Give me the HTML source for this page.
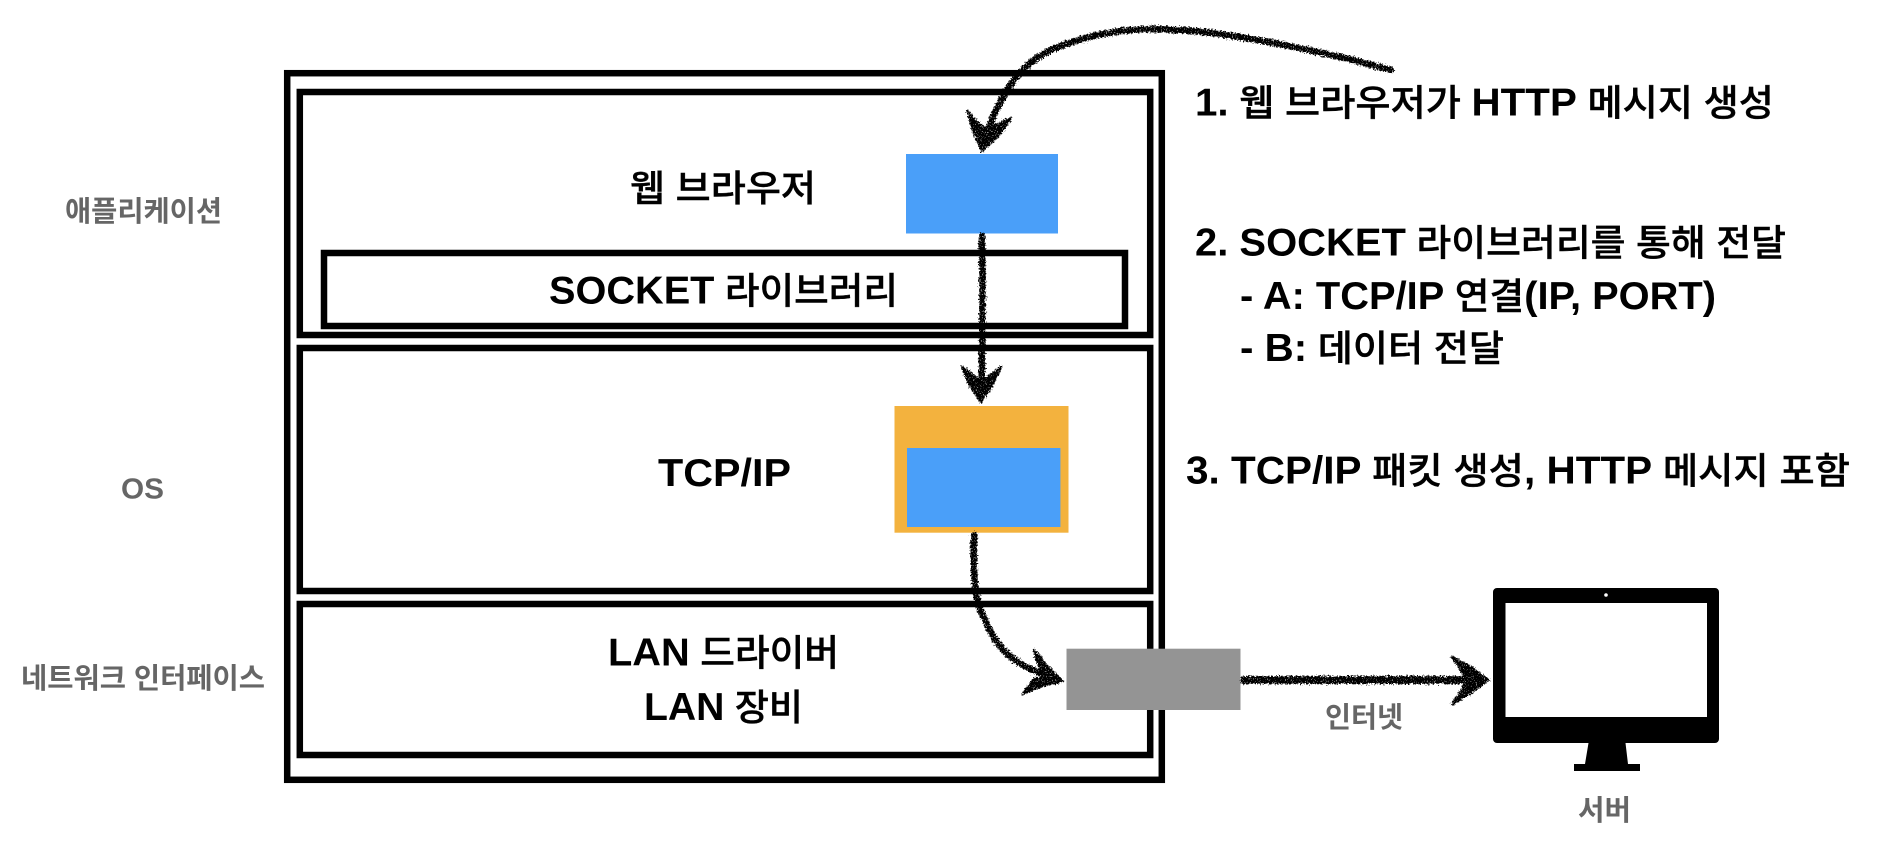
<!DOCTYPE html>
<html lang="ko"><head><meta charset="utf-8"><title>Diagram</title>
<style>
html,body{margin:0;padding:0;background:#fff;width:1882px;height:850px;overflow:hidden}
svg{display:block}
text{font-family:"Liberation Sans","Noto Sans CJK KR",sans-serif}
.k{font-size:36.5px;fill:#000;font-weight:500;stroke:#000;stroke-width:.4px}
.g{font-size:28.5px;fill:#666;font-weight:700}
.b{font-weight:700;stroke:none;font-size:38.5px}
</style></head><body>
<svg width="1882" height="850" viewBox="0 0 1882 850" xmlns="http://www.w3.org/2000/svg">
<defs><filter id="r" x="0" y="0" width="1882" height="850" filterUnits="userSpaceOnUse" primitiveUnits="userSpaceOnUse">
<feTurbulence type="fractalNoise" baseFrequency="0.6" numOctaves="2" seed="4" result="n"/>
<feDisplacementMap in="SourceGraphic" in2="n" scale="6" xChannelSelector="R" yChannelSelector="G" result="d"/>
<feTurbulence type="fractalNoise" baseFrequency="0.9" numOctaves="1" seed="9"/>
<feColorMatrix type="matrix" values="0 0 0 0 0  0 0 0 0 0  0 0 0 0 0  9 0 0 0 -5.6" result="s"/>
<feComposite in="d" in2="s" operator="out"/>
</filter></defs>
<g fill="none" stroke="#000" stroke-width="6.5">
<rect x="287.2" y="73.2" width="874.6" height="706.6"/>
<rect x="299.8" y="92" width="850.4" height="243"/>
<rect x="299.8" y="348" width="850.4" height="243"/>
<rect x="299.8" y="604" width="850.4" height="151"/>
<rect x="324" y="253" width="801" height="73"/>
</g>
<rect x="906" y="154" width="152" height="79.5" fill="#4a9ff9"/>
<rect x="894.5" y="406" width="174" height="126.7" fill="#f3b23e"/>
<rect x="907" y="448" width="153.4" height="79" fill="#4a9ff9"/>
<rect x="1066.5" y="648.7" width="174" height="61.3" fill="#949494"/>
<path fill="#000" fill-rule="evenodd" d="M1497 588H1715a4 4 0 0 1 4 4V739a4 4 0 0 1-4 4H1625.500L1628 764H1640V771H1574V764H1585L1588.500 743H1497a4 4 0 0 1-4-4V592a4 4 0 0 1 4-4ZM1505.500 603V717H1707V603Z"/>
<circle cx="1606" cy="595" r="1.8" fill="#fff"/>
<g filter="url(#r)">
<g fill="none" stroke="#000" stroke-linecap="round">
<path stroke-width="6.500" d="M1391 70C1340 56 1285 44 1227 35C1200 31 1175 29 1147 29C1125 30 1110 32 1093 36C1075 41 1058 46 1045 53C1034 59 1026 66 1019 74C1011 82 1006 92 1002 99C997 108 993 116 990 124L985 138"/>
<path stroke-width="6.500" d="M982 236C983 290 982 340 982 380"/>
<path stroke-width="6.500" d="M974 535C973 560 974 578 976 593C978 605 981 612 985 620C990 632 995 640 1001 647C1010 658 1020 664 1033 670L1052 677"/>
<path stroke-width="8" d="M1244 680H1465"/>
</g>
<g fill="#000" stroke="#000" stroke-width="2.500" stroke-linejoin="round">
<path d="M967 111L977 122L984 128L998 124L1011 118L1000 134L982 151L973 130Z"/>
<path d="M962 367L972 374L981 382L992 374L1001 367L993 384L981 402L969 384Z"/>
<path d="M1034 650L1046 665L1062 681L1042 686L1023 694L1033 680L1044 676L1038 664Z"/>
<path d="M1452 657L1472 668L1488 680L1472 692L1452 704L1462 690L1466 680L1460 668Z"/>
</g>
</g>
<g class="t">
<text class="k" x="1195" y="115.500" textLength="579" lengthAdjust="spacingAndGlyphs"><tspan class="b">1.</tspan> 웹 브라우저가 <tspan class="b">HTTP</tspan> 메시지 생성</text>
<text class="k" x="1195" y="255.500" textLength="591" lengthAdjust="spacingAndGlyphs"><tspan class="b">2. SOCKET</tspan> 라이브러리를 통해 전달</text>
<text class="k" x="1240" y="309" textLength="476" lengthAdjust="spacingAndGlyphs"><tspan class="b">- A: TCP/IP</tspan> 연결<tspan class="b">(IP, PORT)</tspan></text>
<text class="k" x="1240" y="361" textLength="264" lengthAdjust="spacingAndGlyphs"><tspan class="b">- B:</tspan> 데이터 전달</text>
<text class="k" x="1186" y="483.500" textLength="664" lengthAdjust="spacingAndGlyphs"><tspan class="b">3. TCP/IP</tspan> 패킷 생성<tspan class="b">, HTTP</tspan> 메시지 포함</text>
<text class="k" x="630" y="201" textLength="186" lengthAdjust="spacingAndGlyphs">웹 브라우저</text>
<text class="k" x="549" y="303.500" textLength="349" lengthAdjust="spacingAndGlyphs"><tspan class="b">SOCKET</tspan> 라이브러리</text>
<text class="k b" x="658" y="486" textLength="133" lengthAdjust="spacingAndGlyphs">TCP/IP</text>
<text class="k" x="608" y="665.500" textLength="231" lengthAdjust="spacingAndGlyphs"><tspan class="b">LAN</tspan> 드라이버</text>
<text class="k" x="644" y="720" textLength="159" lengthAdjust="spacingAndGlyphs"><tspan class="b">LAN</tspan> 장비</text>
<text class="g" x="65" y="221" textLength="157" lengthAdjust="spacingAndGlyphs">애플리케이션</text>
<text class="g" x="121" y="498.500" textLength="43" lengthAdjust="spacingAndGlyphs">OS</text>
<text class="g" x="21" y="688" textLength="244" lengthAdjust="spacingAndGlyphs">네트워크 인터페이스</text>
<text class="g" x="1325" y="727" textLength="78" lengthAdjust="spacingAndGlyphs">인터넷</text>
<text class="g" x="1578" y="820" textLength="53" lengthAdjust="spacingAndGlyphs">서버</text>
</g>
</svg>
</body></html>
